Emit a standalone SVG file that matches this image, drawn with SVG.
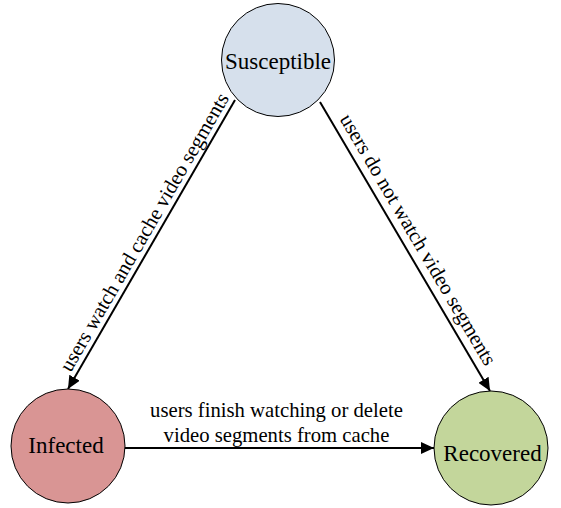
<svg xmlns="http://www.w3.org/2000/svg" width="561" height="508" viewBox="0 0 561 508">
<defs>
<marker id="arr" markerUnits="userSpaceOnUse" markerWidth="14" markerHeight="12" refX="13" refY="6" orient="auto">
<path d="M0,0 L13,6 L0,12 Z" fill="#000"/>
</marker>
<style>
.node{stroke:#000;stroke-width:1}
.nl{font-family:"Liberation Serif","Times New Roman",serif;font-size:23px;fill:#000;text-anchor:middle}
.el{font-family:"Liberation Serif","Times New Roman",serif;font-size:20.7px;fill:#000;text-anchor:middle}
.edge{stroke:#000;stroke-width:2;fill:none;marker-end:url(#arr)}
</style>
</defs>
<rect width="561" height="508" fill="#fff"/>
<g id="connectors">
<line class="edge" x1="235" y1="100" x2="68" y2="389"/>
<line class="edge" x1="320" y1="102" x2="490" y2="391"/>
<line class="edge" x1="125" y1="448" x2="434" y2="448"/>
<text class="el" transform="translate(150.2,235.5) rotate(-60)">users watch and cache video segments</text>
<text class="el" transform="translate(412.3,243) rotate(59.5)">users do not watch video segments</text>
<text class="el" x="276.5" y="416.7">users finish watching or delete</text>
<text class="el" x="276.5" y="441.7">video segments from cache</text>
</g>
<g id="susceptible">
<circle class="node" cx="278" cy="60" r="56.5" fill="#d6e0ec"/>
<text class="nl" x="278" y="69">Susceptible</text>
</g>
<g id="infected">
<circle class="node" cx="68" cy="446" r="57" fill="#d99594"/>
<text class="nl" x="66" y="453">Infected</text>
</g>
<g id="recovered">
<circle class="node" cx="491" cy="448" r="57" fill="#c3d69b"/>
<text class="nl" x="492.5" y="461">Recovered</text>
</g>
</svg>
